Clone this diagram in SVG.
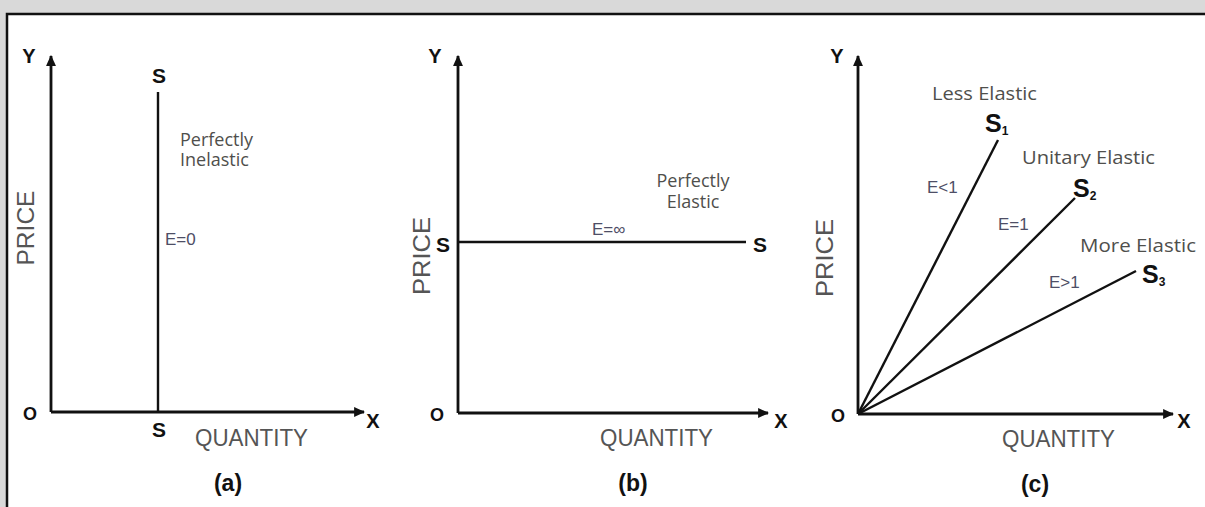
<svg xmlns="http://www.w3.org/2000/svg" width="1205" height="507" viewBox="0 0 1205 507">
<defs>
<marker id="arr" viewBox="0 0 10 10" refX="9" refY="5" markerWidth="11" markerHeight="11" markerUnits="userSpaceOnUse" orient="auto">
<path d="M0,0.5 L10,5 L0,9.5 z" fill="#111"/>
</marker>
<style>
.axis{stroke:#111;stroke-width:2.8;fill:none}
.sup{stroke:#111;stroke-width:2.4;fill:none}
.bold{font-family:"Liberation Sans",Arial,sans-serif;font-weight:bold;fill:#111}
.ax{font-family:"Liberation Sans",Arial,sans-serif;fill:#555;font-size:24px}
.note{font-family:"Open Sans","Liberation Sans",sans-serif;fill:#4f4f4c;font-size:18px}
.e{font-family:"Liberation Sans",Arial,sans-serif;fill:#4e4e66;font-size:17px}
</style>
</defs>
<rect x="0" y="0" width="1205" height="507" fill="#d9d9d9"/>
<rect x="7" y="14" width="1215" height="510" fill="#fff" stroke="#111" stroke-width="2.5"/>

<g id="connectors">
<path class="axis" d="M51,412 L51,56" marker-end="url(#arr)"/>
<path class="axis" d="M51,412 L364,412" marker-end="url(#arr)"/>
<path class="sup" d="M158,92 L158,412"/>
<path class="axis" d="M458,413 L458,56" marker-end="url(#arr)"/>
<path class="axis" d="M458,413 L768,413" marker-end="url(#arr)"/>
<path class="sup" d="M458,242 L746,242"/>
<path class="axis" d="M858,414 L858,56" marker-end="url(#arr)"/>
<path class="axis" d="M858,414 L1173,414" marker-end="url(#arr)"/>
<path class="sup" d="M858,414 L998,140"/>
<path class="sup" d="M858,414 L1075,198"/>
<path class="sup" d="M858,414 L1136,271"/>
</g>

<g id="panel-a">
<text class="bold" x="29" y="63" font-size="20" text-anchor="middle">Y</text>
<text class="bold" x="373" y="428" font-size="20" text-anchor="middle">X</text>
<text class="bold" x="30" y="420" font-size="18" text-anchor="middle">O</text>
<text class="bold" x="159" y="83" font-size="21" text-anchor="middle">S</text>
<text class="bold" x="159" y="437" font-size="21" text-anchor="middle">S</text>
<text class="note"><tspan x="180" y="146">Perfectly</tspan><tspan x="180" y="166">Inelastic</tspan></text>
<text class="e" x="165" y="245">E=0</text>
<text class="ax" transform="translate(34,228) rotate(-90)" text-anchor="middle" textLength="75" lengthAdjust="spacingAndGlyphs">PRICE</text>
<text class="ax" x="195" y="446" textLength="113" lengthAdjust="spacingAndGlyphs">QUANTITY</text>
<text class="bold" x="228" y="491" font-size="23" text-anchor="middle">(a)</text>
</g>

<g id="panel-b">
<text class="bold" x="435" y="63" font-size="20" text-anchor="middle">Y</text>
<text class="bold" x="781" y="428" font-size="20" text-anchor="middle">X</text>
<text class="bold" x="437" y="421" font-size="18" text-anchor="middle">O</text>
<text class="bold" x="443" y="252" font-size="21" text-anchor="middle">S</text>
<text class="bold" x="760" y="252" font-size="21" text-anchor="middle">S</text>
<text class="note" text-anchor="middle"><tspan x="693" y="187">Perfectly</tspan><tspan x="693" y="208">Elastic</tspan></text>
<text class="e" x="592" y="235">E=∞</text>
<text class="ax" transform="translate(430,256) rotate(-90)" text-anchor="middle" textLength="78" lengthAdjust="spacingAndGlyphs">PRICE</text>
<text class="ax" x="600" y="446" textLength="113" lengthAdjust="spacingAndGlyphs">QUANTITY</text>
<text class="bold" x="633" y="491" font-size="23" text-anchor="middle">(b)</text>
</g>

<g id="panel-c">
<text class="bold" x="837" y="63" font-size="20" text-anchor="middle">Y</text>
<text class="bold" x="1184" y="428" font-size="20" text-anchor="middle">X</text>
<text class="bold" x="838" y="422" font-size="18" text-anchor="middle">O</text>
<text class="note" x="932" y="100" textLength="105" lengthAdjust="spacingAndGlyphs">Less Elastic</text>
<text class="bold" x="985" y="132" font-size="25">S<tspan font-size="12" dy="3">1</tspan></text>
<text class="note" x="1022" y="164" textLength="133" lengthAdjust="spacingAndGlyphs">Unitary Elastic</text>
<text class="bold" x="1073" y="197" font-size="25">S<tspan font-size="12" dy="3">2</tspan></text>
<text class="note" x="1080" y="252" textLength="116" lengthAdjust="spacingAndGlyphs">More Elastic</text>
<text class="bold" x="1142" y="283" font-size="25">S<tspan font-size="12" dy="3">3</tspan></text>
<text class="e" x="927" y="193">E&lt;1</text>
<text class="e" x="998" y="230">E=1</text>
<text class="e" x="1049" y="288">E&gt;1</text>
<text class="ax" transform="translate(833,258) rotate(-90)" text-anchor="middle" textLength="78" lengthAdjust="spacingAndGlyphs">PRICE</text>
<text class="ax" x="1002" y="447" textLength="113" lengthAdjust="spacingAndGlyphs">QUANTITY</text>
<text class="bold" x="1035" y="492" font-size="23" text-anchor="middle">(c)</text>
</g>
</svg>
